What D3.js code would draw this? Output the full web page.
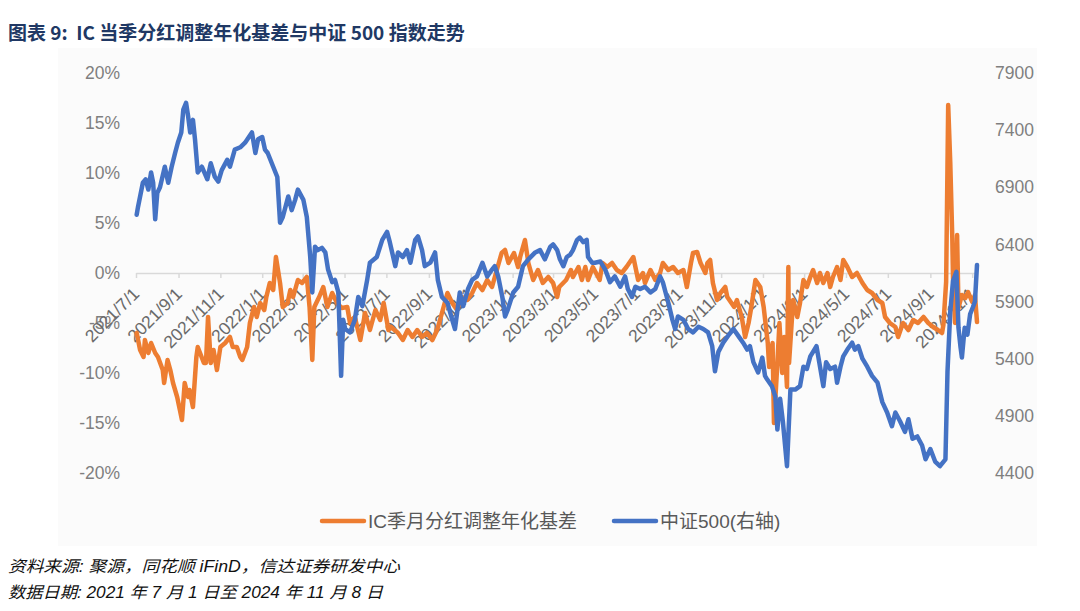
<!DOCTYPE html>
<html>
<head>
<meta charset="utf-8">
<script src="https://cdn.jsdelivr.net/npm/d3@7"></script>
<style>
body{margin:0;background:#fff}
svg{display:block}
text{font-family:"Liberation Sans",Arial,"Noto Sans CJK SC",sans-serif}
</style>
</head>
<body>
<svg id="chart" width="1080" height="611"></svg>
<script>
// IC basis (annualised, dividend adjusted), %
var basisDates=["2021-07-02","2021-07-07","2021-07-12","2021-07-14","2021-07-19","2021-07-23","2021-07-29","2021-08-02","2021-08-09","2021-08-11",
"2021-08-16","2021-08-20","2021-08-24","2021-08-30","2021-09-03","2021-09-06","2021-09-10","2021-09-15","2021-09-17","2021-09-22",
"2021-09-27","2021-09-29","2021-10-08","2021-10-11","2021-10-14","2021-10-18","2021-10-22","2021-10-27","2021-11-01","2021-11-08",
"2021-11-15","2021-11-19","2021-11-25","2021-11-30","2021-12-03","2021-12-10","2021-12-14","2021-12-20","2021-12-24","2021-12-29",
"2022-01-04","2022-01-07","2022-01-12","2022-01-17","2022-01-21","2022-01-27","2022-01-31","2022-02-07","2022-02-11","2022-02-15",
"2022-02-22","2022-02-28","2022-03-07","2022-03-11","2022-03-15","2022-03-18","2022-03-25","2022-03-31","2022-04-06","2022-04-13",
"2022-04-20","2022-04-27","2022-05-05","2022-05-09","2022-05-16","2022-05-24","2022-05-31","2022-06-07","2022-06-15","2022-06-22",
"2022-06-27","2022-07-04","2022-07-08","2022-07-18","2022-07-25","2022-08-01","2022-08-08","2022-08-15","2022-08-22","2022-08-29",
"2022-09-06","2022-09-13","2022-09-20","2022-09-28","2022-10-05","2022-10-12","2022-10-19","2022-10-27","2022-11-03","2022-11-10",
"2022-11-18","2022-11-25","2022-12-02","2022-12-09","2022-12-16","2022-12-21","2022-12-26","2023-01-03","2023-01-09","2023-01-12",
"2023-01-19","2023-01-24","2023-01-31","2023-02-07","2023-02-14","2023-02-22","2023-03-01","2023-03-07","2023-03-10","2023-03-20",
"2023-03-27","2023-03-30","2023-04-07","2023-04-12","2023-04-17","2023-04-21","2023-04-28","2023-05-08","2023-05-12","2023-05-19",
"2023-05-26","2023-06-02","2023-06-09","2023-06-16","2023-06-26","2023-07-03","2023-07-10","2023-07-13","2023-07-21","2023-07-28",
"2023-08-04","2023-08-08","2023-08-16","2023-08-23","2023-08-30","2023-09-07","2023-09-12","2023-09-18","2023-09-21","2023-09-27",
"2023-10-02","2023-10-09","2023-10-12","2023-10-16","2023-10-20","2023-10-26","2023-10-31","2023-11-07","2023-11-10","2023-11-20",
"2023-11-24","2023-12-01","2023-12-06","2023-12-11","2023-12-15","2023-12-21","2023-12-28","2024-01-02","2024-01-08","2024-01-10",
"2024-01-15","2024-01-17","2024-01-22","2024-01-25","2024-01-29","2024-02-01","2024-02-05","2024-02-07","2024-02-08","2024-02-14",
"2024-02-20","2024-02-24","2024-02-29","2024-03-05","2024-03-10","2024-03-14","2024-03-20","2024-03-24","2024-03-29","2024-04-04",
"2024-04-08","2024-04-12","2024-04-18","2024-04-23","2024-04-27","2024-05-03","2024-05-10","2024-05-17","2024-05-25","2024-06-01",
"2024-06-08","2024-06-16","2024-06-23","2024-06-27","2024-07-04","2024-07-12","2024-07-16","2024-07-23","2024-07-31","2024-08-07",
"2024-08-14","2024-08-22","2024-08-29","2024-09-05","2024-09-12","2024-09-18","2024-09-20","2024-09-24","2024-09-27","2024-09-30",
"2024-10-03","2024-10-04","2024-10-07","2024-10-10","2024-10-12","2024-10-17","2024-10-22","2024-10-26","2024-11-01","2024-11-05",
"2024-11-08"];
var basisValues=[-6.0,-7.7,-8.4,-6.7,-8.0,-7.0,-8.0,-8.4,-9.7,-11.0,
-8.7,-9.7,-11.0,-12.4,-13.7,-14.7,-11.0,-12.4,-11.7,-13.4,
-8.4,-7.4,-9.0,-9.0,-4.4,-9.0,-7.7,-9.7,-7.4,-7.0,
-6.4,-7.4,-7.4,-8.4,-8.7,-7.4,-5.0,-3.4,-4.4,-3.0,
-3.7,-2.4,-1.0,-1.7,1.6,-1.0,-3.4,-3.0,-1.7,-2.4,
-0.7,-1.0,-0.4,-3.4,-8.7,-3.4,-2.4,-1.4,-3.4,-2.0,
-3.0,-3.5,-3.4,-5.0,-4.4,-6.7,-4.0,-5.7,-3.7,-4.7,
-3.0,-5.7,-5.4,-6.0,-6.7,-5.7,-6.4,-5.7,-6.4,-6.0,
-6.7,-5.7,-4.0,-2.0,-3.0,-3.7,-2.4,-2.7,-2.0,-1.0,
-1.7,-0.7,-1.4,0.3,2.0,2.3,1.0,2.0,0.6,1.6,
3.3,1.0,-0.7,0.3,-1.0,-0.4,-1.0,-2.4,-1.4,-0.7,
0.3,-0.4,0.6,-0.7,0.6,-0.7,0.6,-0.7,1.0,0.6,
1.0,0.3,0.0,0.6,1.6,-0.7,0.0,-1.0,0.3,-0.7,
0.0,1.0,0.3,0.6,0.0,0.3,-1.4,1.0,2.0,2.1,
1.0,0.0,1.0,1.3,-1.0,-2.7,-2.0,-1.4,-2.4,-3.4,
-2.7,-4.4,-6.4,-5.0,-3.4,-0.7,-1.4,-3.4,-7.0,-9.4,
-7.0,-15.0,-9.0,-5.0,-10.0,-6.4,-11.4,0.6,-9.0,-2.7,
-4.4,-3.0,-0.7,-1.4,-0.4,0.3,-1.0,0.0,-1.0,0.0,
-1.4,-0.4,0.6,-0.7,1.3,0.6,-0.4,0.0,-1.0,-1.7,
-2.0,-2.7,-3.0,-4.4,-5.0,-5.4,-6.4,-5.0,-5.7,-4.7,
-5.0,-4.4,-5.0,-5.4,-5.7,-6.0,-5.2,-0.9,16.8,11.1,
3.5,-0.5,-5.0,3.8,-3.5,-2.2,-2.5,-1.9,-2.9,-2.2,
-4.9];

// CSI 500 index (right axis)
var csiDates=["2021-07-02","2021-07-04","2021-07-11","2021-07-15","2021-07-19","2021-07-23","2021-07-26","2021-07-29","2021-08-01","2021-08-05",
"2021-08-12","2021-08-17","2021-08-22","2021-08-27","2021-08-31","2021-09-05","2021-09-08","2021-09-12","2021-09-15","2021-09-18",
"2021-09-22","2021-09-25","2021-09-29","2021-10-05","2021-10-13","2021-10-18","2021-10-24","2021-10-29","2021-11-03","2021-11-11",
"2021-11-15","2021-11-22","2021-11-30","2021-12-07","2021-12-17","2021-12-22","2021-12-26","2022-01-01","2022-01-05","2022-01-09",
"2022-01-17","2022-01-23","2022-01-27","2022-01-31","2022-02-08","2022-02-13","2022-02-18","2022-02-22","2022-03-02","2022-03-07",
"2022-03-12","2022-03-15","2022-03-19","2022-03-23","2022-03-29","2022-04-03","2022-04-07","2022-04-13","2022-04-17","2022-04-22",
"2022-04-26","2022-04-29","2022-05-02","2022-05-09","2022-05-16","2022-05-21","2022-05-27","2022-06-03","2022-06-07","2022-06-17",
"2022-06-25","2022-07-02","2022-07-06","2022-07-14","2022-07-18","2022-07-25","2022-07-31","2022-08-05","2022-08-12","2022-08-16",
"2022-08-22","2022-08-26","2022-09-03","2022-09-10","2022-09-14","2022-09-20","2022-09-28","2022-10-05","2022-10-09","2022-10-16",
"2022-10-21","2022-10-28","2022-11-03","2022-11-10","2022-11-18","2022-11-25","2022-12-02","2022-12-06","2022-12-11","2022-12-17",
"2022-12-21","2022-12-25","2023-01-02","2023-01-09","2023-01-16","2023-01-24","2023-02-03","2023-02-10","2023-02-17","2023-02-25",
"2023-03-01","2023-03-07","2023-03-11","2023-03-16","2023-03-21","2023-03-26","2023-03-30","2023-04-05","2023-04-09","2023-04-14",
"2023-04-19","2023-04-21","2023-04-27","2023-05-01","2023-05-09","2023-05-16","2023-05-23","2023-05-30","2023-06-07","2023-06-14",
"2023-06-18","2023-06-24","2023-06-29","2023-07-06","2023-07-13","2023-07-21","2023-07-28","2023-08-04","2023-08-08","2023-08-16",
"2023-08-22","2023-08-26","2023-08-30","2023-09-07","2023-09-14","2023-09-21","2023-09-29","2023-10-06","2023-10-13","2023-10-19",
"2023-10-23","2023-10-28","2023-11-04","2023-11-11","2023-11-19","2023-11-26","2023-12-03","2023-12-09","2023-12-13","2023-12-18",
"2023-12-25","2023-12-31","2024-01-04","2024-01-07","2024-01-14","2024-01-19","2024-01-22","2024-01-26","2024-01-30","2024-02-05",
"2024-02-10","2024-02-17","2024-02-24","2024-02-29","2024-03-05","2024-03-10","2024-03-14","2024-03-19","2024-03-23","2024-03-29",
"2024-04-02","2024-04-08","2024-04-15","2024-04-18","2024-04-23","2024-04-27","2024-05-03","2024-05-10","2024-05-14","2024-05-19",
"2024-05-25","2024-06-01","2024-06-08","2024-06-16","2024-06-23","2024-06-30","2024-07-07","2024-07-12","2024-07-19","2024-07-26",
"2024-07-31","2024-08-06","2024-08-13","2024-08-20","2024-08-25","2024-09-01","2024-09-08","2024-09-15","2024-09-23","2024-09-26",
"2024-09-30","2024-10-04","2024-10-09","2024-10-12","2024-10-15","2024-10-17","2024-10-21","2024-10-25","2024-10-29","2024-11-02",
"2024-11-05","2024-11-08"];
var csiValues=[6660,6730,6940,6970,6880,7030,6940,6620,6850,6900,
7080,6940,7080,7200,7290,7380,7580,7640,7520,7380,
7490,7320,7030,7080,6970,7110,6990,6950,7050,7140,
7080,7230,7250,7290,7380,7200,7320,7340,7230,7200,
7080,6990,6590,6640,6820,6700,6790,6880,6790,6640,
6290,5980,6380,6350,6370,6330,6180,6070,6090,5980,
5250,5740,5660,5630,5740,5940,5860,6090,6240,6290,
6440,6510,6420,6210,6330,6290,6350,6240,6440,6470,
6350,6210,6240,6330,6090,5940,5890,5740,5660,5980,
5860,6010,6090,6120,6240,6120,6180,6210,6120,5940,
5770,5830,5980,6030,6210,6270,6330,6350,6270,6380,
6400,6350,6270,6210,6290,6310,6350,6440,6460,6420,
6440,6290,6240,6240,6250,6180,6070,6120,6030,6120,
6010,5940,6030,6010,6030,5980,6010,6120,6070,5890,
5740,5660,5770,5740,5660,5630,5680,5660,5630,5510,
5290,5460,5540,5600,5660,5600,5540,5480,5510,5370,
5280,5410,5250,5220,5160,5070,4780,5050,4850,4460,
5130,5130,5160,5330,5310,5420,5460,5510,5370,5160,
5370,5310,5330,5190,5330,5420,5480,5540,5480,5510,
5400,5330,5250,5190,5020,4930,4810,4930,4850,4760,
4870,4700,4720,4640,4520,4610,4500,4460,4520,5290,
5810,6080,6160,5670,5500,5410,5670,5610,5790,5850,
5900,6220];

var leftTicks=[-20,-15,-10,-5,0,5,10,15,20];
var rightTicks=[4400,4900,5400,5900,6400,6900,7400,7900];
var tickDates=["2021-07-01","2021-09-01","2021-11-01","2022-01-01","2022-03-01","2022-05-01","2022-07-01","2022-09-01","2022-11-01",
"2023-01-01","2023-03-01","2023-05-01","2023-07-01","2023-09-01","2023-11-01","2024-01-01","2024-03-01","2024-05-01","2024-07-01",
"2024-09-01","2024-11-01"];
var seriesNames=["IC季月分红调整年化基差","中证500(右轴)"];
var colors=["#ED7D31","#4472C4"];

var parse=d3.timeParse("%Y-%m-%d");
var svg=d3.select("#chart");

// title
svg.append("text")
  .attr("x",8).attr("y",40)
  .attr("fill","#203864")
  .style("font-family","'Noto Sans CJK SC',sans-serif")
  .style("font-weight","bold")
  .style("font-size","19px")
  .style("white-space","pre")
  .text("图表 9:  IC 当季分红调整年化基差与中证 500 指数走势");

// chart area background
svg.append("rect").attr("x",58).attr("y",48).attr("width",979).attr("height",498).attr("fill","#fbfbfb");

var x=d3.scaleTime().domain([parse("2021-07-01"),parse("2024-11-08")]).range([136,977]);
var yL=d3.scaleLinear().domain([-20,20]).range([473,73]);
var yR=d3.scaleLinear().domain([4400,7900]).range([473,73]);

var tickFont="17.5px";
var gL=svg.append("g").attr("transform","translate(124,0)")
  .call(d3.axisLeft(yL).tickValues(leftTicks).tickFormat(function(d){return d+"%";}).tickSize(0).tickPadding(4));
var gR=svg.append("g").attr("transform","translate(991,0)")
  .call(d3.axisRight(yR).tickValues(rightTicks).tickFormat(d3.format("d")).tickSize(0).tickPadding(4));
[gL,gR].forEach(function(g){
  g.select(".domain").remove();
  g.selectAll("text").style("font-size",tickFont).style("font-family","'Liberation Sans',Arial,sans-serif").attr("fill","#7f7f7f");
});

// category axis on the 0% line
var fmt=d3.timeFormat("%Y/%-m/%-d");
var gX=svg.append("g").attr("transform","translate(0,"+yL(0)+")")
  .call(d3.axisBottom(x).tickValues(tickDates.map(parse)).tickFormat(fmt).tickSizeInner(5).tickSizeOuter(0));
gX.select(".domain").attr("stroke","#d9d9d9").attr("stroke-width",1.5);
gX.selectAll(".tick line").attr("stroke","#d9d9d9").attr("stroke-width",1.5);
gX.selectAll("text")
  .attr("x",0).attr("y",0).attr("dy",0)
  .attr("transform","translate(4,22) rotate(-45)")
  .style("text-anchor","end")
  .style("font-size",tickFont)
  .style("font-family","'Liberation Sans',Arial,sans-serif")
  .attr("fill","#6a6a6a");

// lines
var basis=basisDates.map(function(d,i){return {date:parse(d),v:basisValues[i]};});
var csi=csiDates.map(function(d,i){return {date:parse(d),v:csiValues[i]};});
var lineL=d3.line().x(function(d){return x(d.date);}).y(function(d){return yL(d.v);});
var lineR=d3.line().x(function(d){return x(d.date);}).y(function(d){return yR(d.v);});

svg.append("path").datum(basis).attr("d",lineL)
  .attr("fill","none").attr("stroke",colors[0]).attr("stroke-width",4.5)
  .attr("stroke-linejoin","round").attr("stroke-linecap","round");
svg.append("path").datum(csi).attr("d",lineR)
  .attr("fill","none").attr("stroke",colors[1]).attr("stroke-width",4.5)
  .attr("stroke-linejoin","round").attr("stroke-linecap","round");

// legend
var legX=[322,614];
var leg=svg.append("g").selectAll("g").data(seriesNames).enter().append("g")
  .attr("transform",function(d,i){return "translate("+legX[i]+",521)";});
leg.append("line").attr("x1",0).attr("x2",42).attr("y1",0).attr("y2",0)
  .attr("stroke",function(d,i){return colors[i];}).attr("stroke-width",4.5).attr("stroke-linecap","round");
leg.append("text").attr("x",46).attr("y",0).attr("dy","0.35em")
  .style("font-size","19px")
  .style("font-family","'Liberation Sans','Noto Sans CJK SC',sans-serif")
  .attr("fill","#595959")
  .text(function(d){return d;});

// footer
var foot=["资料来源: 聚源，同花顺 iFinD，信达证券研发中心","数据日期: 2021 年 7 月 1 日至 2024 年 11 月 8 日"];
var footLen=[392,375];
svg.append("g").selectAll("text").data(foot).enter().append("text")
  .attr("x",8).attr("y",function(d,i){return 572+i*26;})
  .attr("textLength",function(d,i){return footLen[i];})
  .attr("lengthAdjust","spacingAndGlyphs")
  .style("font-size","16px")
  .style("font-style","italic")
  .style("font-family","'Liberation Sans','Noto Sans CJK SC',sans-serif")
  .attr("fill","#111")
  .text(function(d){return d;});
</script>
</body>
</html>
